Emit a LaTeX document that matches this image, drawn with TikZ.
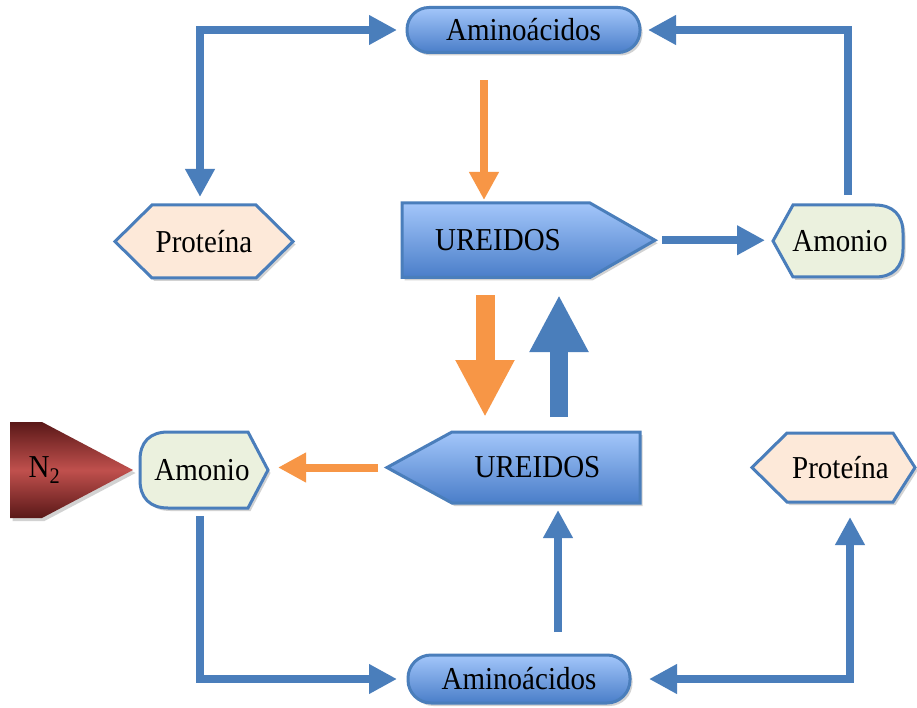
\documentclass[tikz,border=0pt]{standalone}
\usepackage{fontspec}
\setmainfont{Liberation Serif}
\usepackage{graphicx}
\usetikzlibrary{arrows.meta,shadows,calc}
\definecolor{cblue}{HTML}{4A7EBB}
\definecolor{corange}{HTML}{F79646}
\definecolor{gtop}{HTML}{A3C6FA}
\definecolor{gbot}{HTML}{4A7EC9}
\definecolor{peach}{HTML}{FDE9D9}
\definecolor{lgreen}{HTML}{EBF1DE}
\definecolor{dred}{HTML}{5A1818}
\definecolor{mred}{HTML}{C0504D}
\newcommand{\lbl}[1]{\scalebox{1}[1.1]{#1}}
\begin{document}
\begin{tikzpicture}[x=1pt,y=-1pt,
  box/.style={inner sep=0pt, outer sep=0pt},
  lbltext/.style={font=\fontsize{29}{32}\selectfont, inner sep=0pt},
  shad/.style={drop shadow={shadow xshift=2.5pt, shadow yshift=-3pt, fill=gray!70, opacity=0.5}},
  bluegrad/.style={top color=gtop, bottom color=gbot, draw=cblue, line width=3pt},
  prot/.style={fill=peach, draw=cblue, line width=3pt},
  amon/.style={fill=lgreen, draw=cblue, line width=3pt},
  conn/.style={draw=cblue, line width=8pt, -{Triangle[width=28pt,length=28pt]}},
  conntwo/.style={draw=cblue, line width=8pt, {Triangle[width=28pt,length=28pt]}-{Triangle[width=28pt,length=28pt]}},
  oconn/.style={draw=corange, line width=8pt, -{Triangle[width=28pt,length=28pt]}},
  fatorange/.style={draw=corange, line width=19pt, -{Triangle[width=55pt,length=57pt]}},
  fatblue/.style={draw=cblue, line width=18pt, -{Triangle[width=55pt,length=57pt]}}
]
\useasboundingbox (0,0) rectangle (917,708);
\fill[white] (0,0) rectangle (917,708);

% Aminoacidos top
\node[box, bluegrad, shad, rounded corners=22pt, minimum width=233pt, minimum height=45pt, lbltext] (amino1) at (523.5,30) {\lbl{Aminoácidos}};
% Aminoacidos bottom
\node[box, bluegrad, shad, rounded corners=23pt, minimum width=222pt, minimum height=48pt, lbltext] (amino2) at (519,679) {\lbl{Aminoácidos}};

% UREIDOS top (points right)
\node[box, minimum width=253pt, minimum height=74.5pt] (ure1) at (528.5,240.25) {};
\path[bluegrad, shad] (ure1.north west) -- ($(ure1.north east)+(-65,0)$) -- (ure1.east) -- ($(ure1.south east)+(-65,0)$) -- (ure1.south west) -- cycle;
\node[lbltext] (ure1t) at ($(ure1.center)+(-30.5,0)$) {\lbl{UREIDOS}};

% UREIDOS bottom (points left)
\node[box, minimum width=253pt, minimum height=71pt] (ure2) at (513.5,467.5) {};
\path[bluegrad, shad] (ure2.north east) -- ($(ure2.north west)+(65,0)$) -- (ure2.west) -- ($(ure2.south west)+(65,0)$) -- (ure2.south east) -- cycle;
\node[lbltext] (ure2t) at ($(ure2.center)+(24,0)$) {\lbl{UREIDOS}};

% Proteina top-left
\node[box, minimum width=178pt, minimum height=73pt] (prot1) at (204,241.5) {};
\path[prot, shad] (prot1.west) -- ($(prot1.north west)+(37,0)$) -- ($(prot1.north east)+(-37,0)$) -- (prot1.east) -- ($(prot1.south east)+(-37,0)$) -- ($(prot1.south west)+(37,0)$) -- cycle;
\node[lbltext] (prot1t) at (prot1.center) {\lbl{Proteína}};

% Proteina bottom-right
\node[box, minimum width=163pt, minimum height=69pt] (prot2) at (833.5,467.5) {};
\path[prot, shad] (prot2.west) -- ($(prot2.north west)+(35,0)$) -- ($(prot2.north east)+(-22,0)$) -- (prot2.east) -- ($(prot2.south east)+(-22,0)$) -- ($(prot2.south west)+(35,0)$) -- cycle;
\node[lbltext] (prot2t) at ($(prot2.center)+(7,0)$) {\lbl{Proteína}};

% Amonio top-right (pointed left, rounded right)
\node[box, minimum width=130pt, minimum height=72pt] (amon1) at (838,241) {};
\path[amon, shad] (amon1.west) -- ($(amon1.north west)+(20,0)$) -- ($(amon1.north east)+(-28,0)$) .. controls ($(amon1.north east)+(-10,0)$) and ($(amon1.north east)+(0,10)$) .. ($(amon1.north east)+(0,28)$) -- ($(amon1.south east)+(0,-28)$) .. controls ($(amon1.south east)+(0,-10)$) and ($(amon1.south east)+(-10,0)$) .. ($(amon1.south east)+(-28,0)$) -- ($(amon1.south west)+(20,0)$) -- cycle;
\node[lbltext] (amon1t) at ($(amon1.center)+(2,0)$) {\lbl{Amonio}};

% Amonio bottom-left (rounded left, pointed right)
\node[box, minimum width=128pt, minimum height=76pt] (amon2) at (204,470) {};
\path[amon, shad] (amon2.east) -- ($(amon2.north east)+(-20,0)$) -- ($(amon2.north west)+(28,0)$) .. controls ($(amon2.north west)+(10,0)$) and ($(amon2.north west)+(0,10)$) .. ($(amon2.north west)+(0,28)$) -- ($(amon2.south west)+(0,-28)$) .. controls ($(amon2.south west)+(0,-10)$) and ($(amon2.south west)+(10,0)$) .. ($(amon2.south west)+(28,0)$) -- ($(amon2.south east)+(-20,0)$) -- cycle;
\node[lbltext] (amon2t) at ($(amon2.center)+(-2,0)$) {\lbl{Amonio}};

% N2
\node[box, minimum width=123pt, minimum height=96pt] (n2) at (71.5,470) {};
\path[top color=dred, bottom color=dred, middle color=mred, shad] (n2.north west) -- ($(n2.north west)+(32,0)$) -- (n2.east) -- ($(n2.south west)+(32,0)$) -- (n2.south west) -- cycle;
\node[lbltext] (n2t) at ($(n2.center)+(-27,0)$) {\lbl{N\textsubscript{2}}};

% connectors
\draw[conntwo, shorten <=8pt, shorten >=10pt] ($(prot1.north)+(-4,0)$) |- (amino1.west);
\draw[conn, shorten <=10pt, shorten >=8pt] ($(amon1.north)+(10,0)$) |- (amino1.east);
\draw[conn, shorten <=7pt, shorten >=8pt] (ure1.east) -- (ure1.east -| amon1.west);
\draw[conn, shorten <=8pt, shorten >=11pt] ($(amon2.south)+(-4,0)$) |- (amino2.west);
\draw[conntwo, shorten <=15pt, shorten >=19pt] ($(prot2.south)+(16.5,0)$) |- (amino2.east);
\coordinate (c6) at ($(amino2.north)+(39,0)$);
\draw[conn, shorten <=23pt, shorten >=7pt] (c6) -- (c6 |- ure2.south);

\coordinate (o1) at ($(amino1.south)+(-39.5,0)$);
\draw[oconn, shorten <=28pt, shorten >=3pt] (o1) -- (o1 |- ure1.north);
\draw[oconn, shorten <=9pt, shorten >=10pt] (ure2.west) -- (ure2.west -| amon2.east);

\coordinate (f1) at ($(ure1.south)+(-43.5,0)$);
\draw[fatorange, shorten <=17.5pt, shorten >=15pt] (f1) -- (f1 |- ure2.north);
\coordinate (f2) at ($(ure1.south)+(30.5,0)$);
\draw[fatblue, shorten <=15pt, shorten >=17.5pt] (f2 |- ure2.north) -- (f2);
\end{tikzpicture}
\end{document}
